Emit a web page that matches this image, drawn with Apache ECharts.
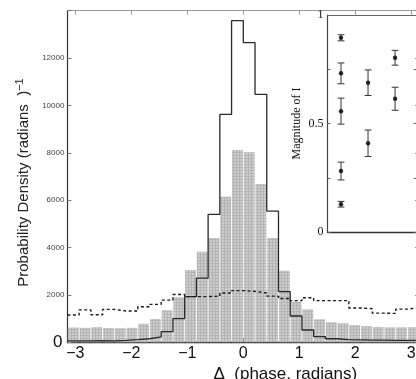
<!DOCTYPE html>
<html>
<head>
<meta charset="utf-8">
<script src="https://cdn.jsdelivr.net/npm/echarts@6/dist/echarts.min.js"></script>
<style>
  html, body { margin: 0; padding: 0; background: #fff; }
  #chart { width: 416px; height: 379px; }
</style>
</head>
<body>
<div id="chart"></div>
<script>
const PI = Math.PI;

// 30 phase bins from -pi to pi
const binIndex = Array.from({ length: 30 }, (_, k) => k);

// shaded (grey) histogram, per bin
const shadedDensity = [
  620, 610, 640, 600, 590, 610, 780, 980, 1350, 1900,
  3050, 3820, 4400, 6150, 8120, 8020, 6680, 4400, 3020, 1710,
  1390, 970, 840, 800, 720, 680, 650, 630, 630, 640
];

// open (solid outline) histogram, per bin
const solidDensity = [
  60, 60, 70, 60, 80, 110, 150, 230, 450, 1000,
  1925, 2710, 5400, 9620, 13580, 12650, 10470, 5540, 2140, 1110,
  520, 240, 150, 110, 100, 90, 90, 80, 80, 80
];

// dashed histogram, per bin
const dashedDensity = [
  1150, 1370, 1160, 1390, 1320, 1320, 1500, 1600, 1780, 2020,
  1930, 1930, 1950, 2080, 2180, 2150, 2080, 1950, 1850, 1760,
  1880, 1760, 1760, 1760, 1450, 1420, 1230, 1220, 1400, 1460
];

const xTicks = [-3, -2, -1, 0, 1, 2, 3];

// inset: magnitude of I with error bars
const insetX = [1, 1, 1, 1, 1, 2, 2, 3, 3];
const insetMag = [0.895, 0.731, 0.557, 0.281, 0.128, 0.688, 0.409, 0.803, 0.614];
const insetErr = [0.014, 0.048, 0.06, 0.041, 0.013, 0.059, 0.061, 0.034, 0.053];

const binWidth = 2 * PI / binIndex.length;
const toSteps = (vals) => vals.map((v, k) => [-PI + k * binWidth, v]).concat([[PI, vals[vals.length - 1]]]);

const insetData = insetX.map((x, i) => [x, insetMag[i], insetErr[i]]);

const chart = echarts.init(document.getElementById('chart'), null, { renderer: 'canvas' });

const sans = 'Liberation Sans';
const serif = 'Liberation Serif';

const option = {
  animation: false,
  backgroundColor: '#fff',
  grid: [
    { left: 67.4, top: 10.7, width: 351.8, height: 331.6, outerBoundsMode: 'none', containLabel: false },
    { left: 327.5, top: 15, width: 89.2, height: 217, outerBoundsMode: 'none', containLabel: false }
  ],
  xAxis: [
    {
      gridIndex: 0,
      type: 'value',
      min: -PI,
      max: PI,
      position: 'bottom',
      axisLine: { onZero: false, lineStyle: { color: '#222', width: 1.3 } },
      axisTick: { inside: true, length: 4, customValues: xTicks, lineStyle: { color: '#777' } },
      axisLabel: {
        customValues: xTicks,
        fontFamily: sans,
        fontSize: 16,
        color: '#111',
        margin: 3,
        formatter: (v) => (v < 0 ? '\u2212' + Math.abs(v) : String(v))
      },
      splitLine: { show: false },
      name: '\u0394  (phase, radians)',
      nameLocation: 'middle',
      nameGap: 19,
      nameTextStyle: { fontFamily: sans, fontSize: 17, color: '#111', padding: [0, 0, 0, 84] }
    },
    {
      gridIndex: 0,
      type: 'value',
      min: -PI,
      max: PI,
      position: 'top',
      axisLine: { onZero: false, lineStyle: { color: '#999', width: 1 } },
      axisTick: { inside: true, length: 4, customValues: xTicks, lineStyle: { color: '#999' } },
      axisLabel: { show: false },
      splitLine: { show: false }
    },
    {
      gridIndex: 0,
      type: 'category',
      data: binIndex,
      boundaryGap: true,
      show: false
    },
    {
      gridIndex: 1,
      type: 'value',
      min: 0.5,
      max: 3.8,
      position: 'bottom',
      axisLine: { onZero: false, lineStyle: { color: '#333', width: 1.3 } },
      axisTick: { show: false },
      axisLabel: { show: false },
      splitLine: { show: false }
    },
    {
      gridIndex: 1,
      type: 'value',
      min: 0.5,
      max: 3.8,
      position: 'top',
      axisLine: { onZero: false, lineStyle: { color: '#666', width: 1.2 } },
      axisTick: { show: false },
      axisLabel: { show: false },
      splitLine: { show: false }
    }
  ],
  yAxis: [
    {
      gridIndex: 0,
      type: 'value',
      min: 0,
      max: 14000,
      interval: 2000,
      position: 'left',
      axisLine: { show: true, onZero: false, lineStyle: { color: '#333', width: 1.2 } },
      axisTick: { show: true, inside: true, length: 4, lineStyle: { color: '#777' } },
      axisLabel: {
        fontFamily: sans,
        fontSize: 8,
        color: '#444',
        margin: 3,
        formatter: (v) => (v === 0 ? '{big|0}' : v === 14000 ? '' : String(v)),
        rich: { big: { fontFamily: sans, fontSize: 17, color: '#111', padding: [0, 2, 0, 0] } }
      },
      splitLine: { show: false },
      name: 'Probability Density (radians  ){sup|\u22121}',
      nameLocation: 'middle',
      nameGap: 34,
      nameTextStyle: {
        fontFamily: sans,
        fontSize: 15,
        color: '#222',
        padding: [0, 12, 0, 0],
        rich: { sup: { fontFamily: sans, fontSize: 11, color: '#222', verticalAlign: 'top', padding: [0, 0, 8, 0] } }
      }
    },
    {
      gridIndex: 0,
      type: 'value',
      min: 0,
      max: 14000,
      interval: 2000,
      position: 'right',
      axisLine: { show: true, onZero: false, lineStyle: { color: '#333' } },
      axisTick: { show: true, inside: true, length: 4, lineStyle: { color: '#777' } },
      axisLabel: { show: false },
      splitLine: { show: false }
    },
    {
      gridIndex: 1,
      type: 'value',
      min: 0,
      max: 1,
      interval: 0.25,
      position: 'left',
      axisLine: { show: true, onZero: false, lineStyle: { color: '#444', width: 1.2 } },
      axisTick: { show: true, inside: true, length: 3, lineStyle: { color: '#666' } },
      axisLabel: {
        fontFamily: serif,
        fontSize: 12,
        color: '#111',
        margin: 4,
        formatter: (v) => (v === 0 || v === 0.5 || v === 1 ? String(v) : '')
      },
      splitLine: { show: false },
      name: 'Magnitude of I',
      nameLocation: 'middle',
      nameGap: 25,
      nameTextStyle: { fontFamily: serif, fontSize: 12, color: '#111' }
    },
    {
      gridIndex: 1,
      type: 'value',
      min: 0,
      max: 1,
      interval: 0.25,
      position: 'right',
      axisLine: { show: true, onZero: false, lineStyle: { color: '#666' } },
      axisTick: { show: true, inside: true, length: 3, lineStyle: { color: '#666' } },
      axisLabel: { show: false },
      splitLine: { show: false }
    }
  ],
  series: [
    {
      name: 'shaded',
      type: 'bar',
      xAxisIndex: 2,
      yAxisIndex: 0,
      data: shadedDensity,
      barCategoryGap: '8%',
      silent: true,
      itemStyle: {
        color: '#b4b4b4',
        decal: {
          symbol: 'circle',
          symbolSize: 0.8,
          dashArrayX: [2, 1],
          dashArrayY: [2, 1],
          color: '#ececec'
        }
      }
    },
    {
      name: 'solid',
      type: 'line',
      xAxisIndex: 0,
      yAxisIndex: 0,
      step: 'end',
      symbol: 'none',
      data: toSteps(solidDensity),
      lineStyle: { color: '#2a2a2a', width: 1.3 }
    },
    {
      name: 'dashed',
      type: 'line',
      xAxisIndex: 0,
      yAxisIndex: 0,
      step: 'end',
      symbol: 'none',
      data: toSteps(dashedDensity),
      lineStyle: { color: '#1a1a1a', width: 1.4, type: [3, 2.5] }
    },
    {
      name: 'errors',
      type: 'custom',
      xAxisIndex: 3,
      yAxisIndex: 2,
      data: insetData,
      renderItem: (params, api) => {
        const x = api.value(0);
        const y = api.value(1);
        const e = api.value(2);
        const top = api.coord([x, y + e]);
        const bot = api.coord([x, y - e]);
        const hw = 3.4;
        const style = { stroke: '#333', lineWidth: 1 };
        return {
          type: 'group',
          children: [
            { type: 'line', shape: { x1: top[0], y1: top[1], x2: bot[0], y2: bot[1] }, style },
            { type: 'line', shape: { x1: top[0] - hw, y1: top[1], x2: top[0] + hw, y2: top[1] }, style },
            { type: 'line', shape: { x1: bot[0] - hw, y1: bot[1], x2: bot[0] + hw, y2: bot[1] }, style }
          ]
        };
      }
    },
    {
      name: 'magnitude',
      type: 'scatter',
      xAxisIndex: 3,
      yAxisIndex: 2,
      data: insetData.map((d) => [d[0], d[1]]),
      symbol: 'circle',
      symbolSize: 4.5,
      itemStyle: { color: '#000' }
    }
  ]
};

chart.setOption(option);
</script>
</body>
</html>
